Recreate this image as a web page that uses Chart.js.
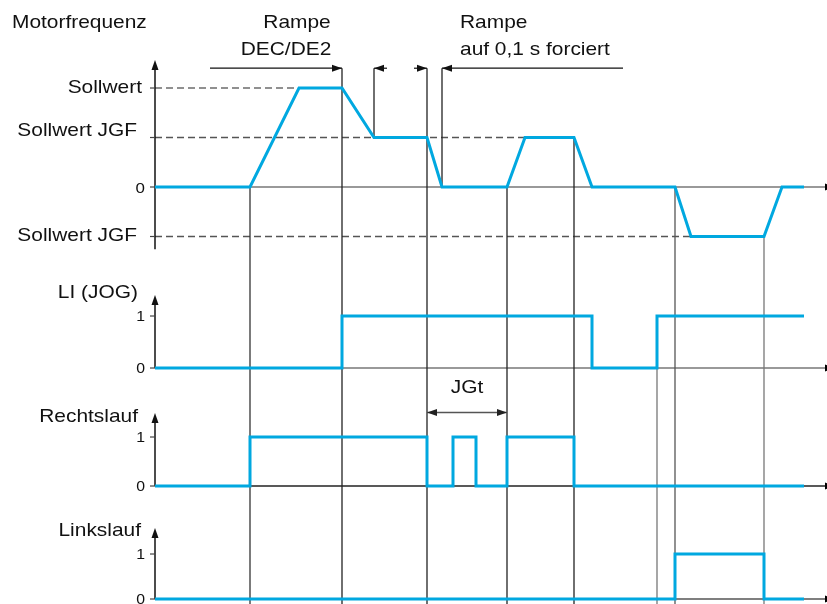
<!DOCTYPE html>
<html lang="de">
<head>
<meta charset="utf-8">
<title>Motorfrequenz JOG</title>
<script src="https://cdn.jsdelivr.net/npm/chart.js@4/dist/chart.umd.min.js"></script>
<style>
  body { margin: 0; background: #fff; }
  #box { width: 827px; height: 604px; position: relative; }
</style>
</head>
<body>
<div id="box"><canvas id="myChart"></canvas></div>
<script>
// Zeitpunkte (willkürliche Einheit) und Werte der vier Signale
const motorZeit = [0, 95, 144, 187, 219, 272, 287, 352, 370, 419, 437, 520, 536, 609, 627, 649];
const motorWert = [0, 0, 100, 100, 50, 50, 0, 0, 50, 50, 0, 0, -50, -50, 0, 0]; // % Sollwert
const jogZeit = [0, 187, 437, 502, 649];
const jogWert = [0, 1, 0, 1, 1];
const rechtsZeit = [0, 95, 272, 298, 321, 352, 419, 649];
const rechtsWert = [0, 1, 0, 1, 0, 1, 0, 0];
const linksZeit = [0, 520, 609, 649];
const linksWert = [0, 1, 0, 0];

const sollwert = 100;
const sollwertJGF = 50;

// Hilfslinien: Zeitpunkt, ab welchem Signal/Wert
const hilfslinien = [
  [95, 'motor', 0, null, '#333'],
  [187, 'motor', 120, null, '#222'],
  [219, 'motor', 120, 50, '#222'],
  [272, 'motor', 120, null, '#222'],
  [287, 'motor', 120, 0, '#222'],
  [352, 'motor', 0, null, '#222'],
  [419, 'motor', 50, null, '#222'],
  [502, 'li', 0, null, '#777'],
  [520, 'motor', 0, null, '#555'],
  [609, 'motor', -50, null, '#777'],
];

const blau = '#00a8e0';
const toPts = (xs, ys) => xs.map((x, i) => ({x: x, y: ys[i]}));

function schrift(ctx, str, x, y, align, size) {
  ctx.save();
  ctx.font = size + 'px "Liberation Sans", Arial, sans-serif';
  ctx.textAlign = align;
  ctx.textBaseline = 'alphabetic';
  ctx.fillStyle = '#111';
  ctx.translate(x, y);
  ctx.scale(1.13, 1);
  ctx.fillText(str, 0, 0);
  ctx.restore();
}

function pfeil(ctx, x, y, dx, dy, color) {
  // Spitze bei (x,y), Richtung (dx,dy)
  const l = 10, w = 3.5;
  ctx.save();
  ctx.fillStyle = color;
  ctx.beginPath();
  ctx.moveTo(x, y);
  ctx.lineTo(x - dx * l - dy * w, y - dy * l - dx * w);
  ctx.lineTo(x - dx * l + dy * w, y - dy * l + dx * w);
  ctx.closePath();
  ctx.fill();
  ctx.restore();
}

function linie(ctx, x1, y1, x2, y2, color, width, dash) {
  ctx.save();
  ctx.strokeStyle = color;
  ctx.lineWidth = width;
  ctx.setLineDash(dash || []);
  ctx.beginPath();
  ctx.moveTo(x1, y1);
  ctx.lineTo(x2, y2);
  ctx.stroke();
  ctx.restore();
}

const diagramm = {
  id: 'diagramm',
  beforeDatasetsDraw(chart) {
    const ctx = chart.ctx;
    const a = chart.chartArea;
    const X = v => chart.scales.x.getPixelForValue(v);
    const Y = (id, v) => chart.scales[id].getPixelForValue(v);

    // Nulllinien (Zeitachsen)
    const achsFarben = {motor: '#777', li: '#777', rechts: '#222', links: '#555'};
    for (const id of ['motor', 'li', 'rechts', 'links']) {
      const y = Y(id, 0);
      linie(ctx, a.left, y, a.right + 2, y, achsFarben[id], 1.5);
      pfeil(ctx, a.right + 9, y, 1, 0, '#000');
    }

    // Sollwert-Linien
    linie(ctx, a.left, Y('motor', sollwert), X(144), Y('motor', sollwert), '#222', 1.2, [7, 4]);
    linie(ctx, a.left, Y('motor', sollwertJGF), X(370), Y('motor', sollwertJGF), '#555', 1.5, [7, 4]);
    linie(ctx, a.left, Y('motor', -sollwertJGF), X(536), Y('motor', -sollwertJGF), '#555', 1.5, [7, 4]);

    // senkrechte Hilfslinien
    for (const [t, id, von, bis, farbe] of hilfslinien) {
      const x = X(t);
      const y2 = bis === null ? a.bottom : Y('motor', bis);
      linie(ctx, x, Y(id, von), x, y2, farbe, 1.3);
    }

    // Maßpfeile der Rampen
    const ym = Y('motor', 120);
    linie(ctx, X(55), ym, X(187), ym, '#111', 1.2);
    pfeil(ctx, X(187), ym, 1, 0, '#111');
    linie(ctx, X(219), ym, X(232), ym, '#111', 1.2);
    pfeil(ctx, X(219), ym, -1, 0, '#111');
    linie(ctx, X(259), ym, X(272), ym, '#111', 1.2);
    pfeil(ctx, X(272), ym, 1, 0, '#111');
    linie(ctx, X(287), ym, X(468), ym, '#111', 1.2);
    pfeil(ctx, X(287), ym, -1, 0, '#111');

    // JGt
    const yj = Y('rechts', 1.5);
    linie(ctx, X(272), yj, X(352), yj, '#555', 1.5);
    pfeil(ctx, X(272), yj, -1, 0, '#222');
    pfeil(ctx, X(352), yj, 1, 0, '#222');

    // Y-Achsen mit Pfeil und Teilstrichen
    const achsen = [
      ['motor', -63, [sollwert, sollwertJGF, 0, -sollwertJGF]],
      ['li', 0, [1, 0]],
      ['rechts', 0, [1, 0]],
      ['links', 0, [1, 0]],
    ];
    for (const [id, unten, ticks] of achsen) {
      const s = chart.scales[id];
      linie(ctx, a.left, s.top + 4, a.left, Y(id, unten), '#111', 1.5);
      pfeil(ctx, a.left, s.top, 0, -1, '#111');
      for (const v of ticks) {
        linie(ctx, a.left - 5, Y(id, v), a.left, Y(id, v), '#444', 1.2);
      }
    }
  },
  afterDraw(chart) {
    const ctx = chart.ctx;
    const a = chart.chartArea;
    const X = v => chart.scales.x.getPixelForValue(v);
    const Y = (id, v) => chart.scales[id].getPixelForValue(v);
    const L = a.left;

    schrift(ctx, 'Motorfrequenz', 12, 28, 'left', 18.5);
    schrift(ctx, 'Rampe', 297, 28, 'center', 18.5);
    schrift(ctx, 'DEC/DE2', 286, 55, 'center', 18.5);
    schrift(ctx, 'Rampe', 460, 28, 'left', 18.5);
    schrift(ctx, 'auf 0,1 s forciert', 460, 55, 'left', 18.5);

    schrift(ctx, 'Sollwert', L - 13, Y('motor', sollwert) + 5, 'right', 18.5);
    schrift(ctx, 'Sollwert JGF', L - 18, Y('motor', sollwertJGF) - 2, 'right', 18.5);
    schrift(ctx, '0', L - 10, Y('motor', 0) + 6, 'right', 15);
    schrift(ctx, 'Sollwert JGF', L - 18, Y('motor', -sollwertJGF) + 5, 'right', 18.5);

    schrift(ctx, 'LI (JOG)', L - 17, Y('li', 0) - 70, 'right', 18.5);
    schrift(ctx, 'Rechtslauf', L - 17, Y('rechts', 0) - 64, 'right', 18.5);
    schrift(ctx, 'Linkslauf', L - 14, Y('links', 0) - 63, 'right', 18.5);
    for (const id of ['li', 'rechts', 'links']) {
      schrift(ctx, '1', L - 10, Y(id, 1) + 5, 'right', 14);
      schrift(ctx, '0', L - 10, Y(id, 0) + 5, 'right', 14);
    }
    schrift(ctx, 'JGt', X(312), Y('rechts', 1.5) - 20, 'center', 18.5);
  }
};

const signal = (daten, achse, stufe) => ({
  data: daten,
  yAxisID: achse,
  borderColor: blau,
  borderWidth: 3,
  pointRadius: 0,
  fill: false,
  stepped: stufe,
  tension: 0,
});

const data = {
  datasets: [
    signal(toPts(motorZeit, motorWert), 'motor', false),
    signal(toPts(jogZeit, jogWert), 'li', 'before'),
    signal(toPts(rechtsZeit, rechtsWert), 'rechts', 'before'),
    signal(toPts(linksZeit, linksWert), 'links', 'before'),
  ]
};

const config = {
  type: 'line',
  data: data,
  options: {
    responsive: true,
    maintainAspectRatio: false,
    animation: false,
    events: [],
    layout: { padding: { left: 155, right: 1, top: 60, bottom: 0 } },
    plugins: { legend: { display: false }, tooltip: { enabled: false } },
    scales: {
      x: { type: 'linear', min: 0, max: 671, display: false },
      motor: { type: 'linear', position: 'left', stack: 'sig', stackWeight: 235, weight: 4, min: -109.1, max: 128.3, display: false },
      li: { type: 'linear', position: 'left', stack: 'sig', stackWeight: 118, weight: 3, min: -0.865, max: 1.404, display: false },
      rechts: { type: 'linear', position: 'left', stack: 'sig', stackWeight: 115, weight: 2, min: -0.857, max: 1.49, display: false },
      links: { type: 'linear', position: 'left', stack: 'sig', stackWeight: 76, weight: 1, min: -0.111, max: 1.578, display: false },
    }
  },
  plugins: [diagramm]
};

const myChart = new Chart(document.getElementById('myChart'), config);
</script>
</body>
</html>
